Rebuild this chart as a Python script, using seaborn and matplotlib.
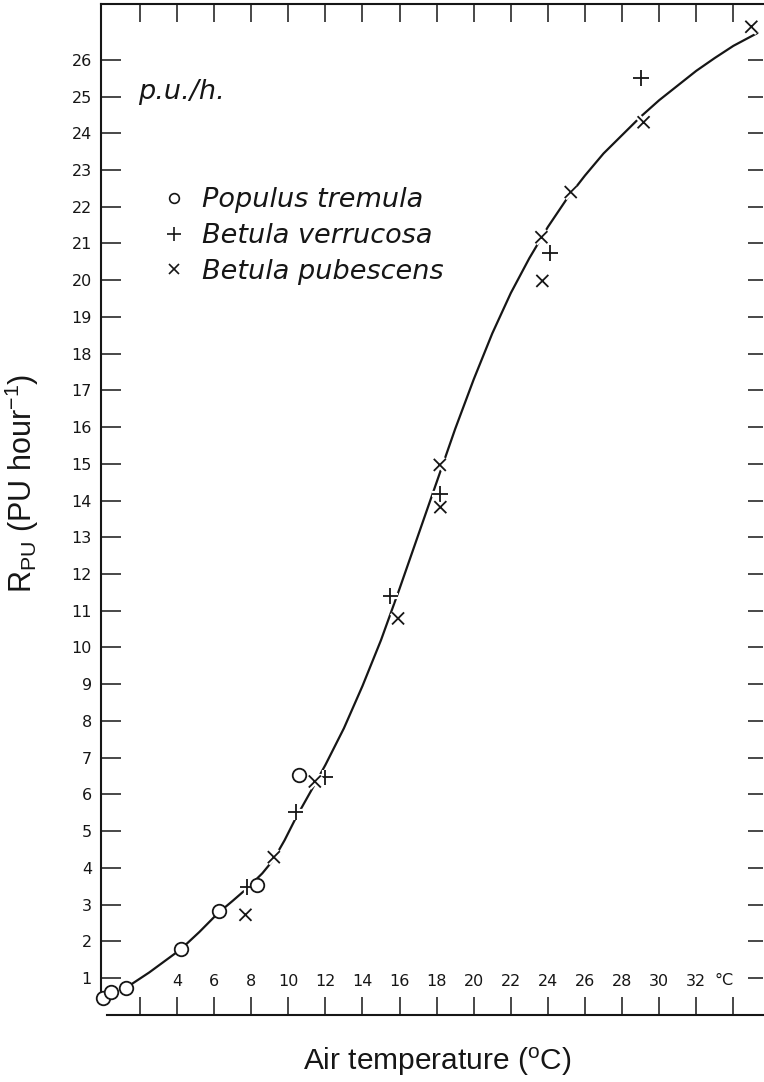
import numpy as np
import pandas as pd
import matplotlib
matplotlib.use("Agg")
import matplotlib.pyplot as plt
import matplotlib.patheffects as pe
from matplotlib.lines import Line2D
import seaborn as sns

# Fitted response curve (air temperature in degC, rate in PU per hour)
curve_temp = [1.3, 2.5, 4.2, 5.2, 6.2, 7.0, 7.8, 8.6, 9.2, 9.8, 10.4, 11.4, 12.0,
              13.0, 14.0, 15.0, 16.0, 17.0, 18.0, 19.0, 20.0, 21.0, 22.0, 23.0,
              24.0, 25.0, 26.0, 27.0, 28.0, 29.0, 30.0, 31.0, 32.0, 33.0, 34.0, 35.3]
curve_rate = [0.75, 1.15, 1.78, 2.25, 2.76, 3.1, 3.45, 3.85, 4.22, 4.75, 5.35, 6.25, 6.8,
              7.8, 8.95, 10.2, 11.6, 13.05, 14.5, 15.95, 17.3, 18.55, 19.65, 20.6,
              21.45, 22.2, 22.85, 23.45, 23.95, 24.45, 24.9, 25.3, 25.7, 26.05, 26.38, 26.73]

# Observations per species
populus_temp = [0.02, 0.43, 1.27, 4.24, 6.25, 8.29, 10.57]
populus_rate = [0.46, 0.62, 0.72, 1.78, 2.81, 3.53, 6.53]

verrucosa_temp = [7.80, 10.39, 11.97, 15.51, 18.20, 24.13, 29.04]
verrucosa_rate = [3.47, 5.53, 6.46, 11.40, 14.18, 20.75, 25.50]

pubescens_temp = [7.69, 9.22, 11.43, 15.92, 18.17, 18.20, 23.65, 23.70, 25.23, 29.16, 34.97]
pubescens_rate = [2.72, 4.29, 6.35, 10.79, 14.97, 13.82, 21.17, 19.98, 22.40, 24.30, 26.90]

species_names = ["Populus tremula", "Betula verrucosa", "Betula pubescens"]

x_ticks = list(range(2, 35, 2))
x_tick_labels = [""] + [str(v) for v in range(4, 33, 2)] + [""]
y_ticks = list(range(1, 27))

sns.set_theme(style="ticks")
plt.rcParams["font.family"] = ["DejaVu Sans"]
plt.rcParams["mathtext.fontset"] = "custom"
plt.rcParams["mathtext.rm"] = "Liberation Sans"
plt.rcParams["mathtext.it"] = "Liberation Sans:italic"

ink = "#161616"

fig = plt.figure(figsize=(7.64, 10.82), dpi=100)
ax = fig.add_axes([0.1322, 0.0622, 0.8665, 0.9341])

curve_df = pd.DataFrame({"temp": curve_temp, "rate": curve_rate})
sns.lineplot(data=curve_df, x="temp", y="rate", ax=ax, color=ink, lw=1.6,
             sort=False, estimator=None, zorder=2,
             solid_joinstyle="round", solid_capstyle="round")

halo = [pe.Stroke(linewidth=4.5, foreground="white"), pe.Normal()]

sns.scatterplot(x=populus_temp, y=populus_rate, ax=ax, marker="o", s=95,
                facecolor="white", edgecolor=ink, linewidth=1.3, zorder=4,
                clip_on=False)
sns.scatterplot(x=verrucosa_temp, y=verrucosa_rate, ax=ax, marker="+", s=130,
                color=ink, linewidth=1.3, zorder=3, path_effects=halo)
sns.scatterplot(x=pubescens_temp, y=pubescens_rate, ax=ax, marker="x", s=75,
                color=ink, linewidth=1.3, zorder=3, path_effects=halo,
                clip_on=False)

ax.set_xlim(-0.1, 35.6)
ax.set_ylim(0, 27.52)

ax.set_xticks(x_ticks)
ax.set_xticklabels(x_tick_labels)
ax.set_yticks(y_ticks)
ax.set_yticklabels([str(v) for v in y_ticks])

ax.tick_params(axis="x", which="major", direction="in", length=13, width=1.1,
               top=True, bottom=True, labeltop=False, labelbottom=True,
               pad=-29.5, labelsize=11.5, colors=ink)
ax.tick_params(axis="y", which="major", direction="in", length=14.5, width=1.1,
               left=True, right=True, labelleft=True, labelright=False,
               pad=6.5, labelsize=11.5, colors=ink)
for t in ax.yaxis.get_major_ticks():
    t.tick2line.set_markersize(11)

ax.text(33.0, 0.0343, "°C", transform=ax.get_xaxis_transform(), ha="left",
        va="center", fontsize=11.5, color=ink)

for side in ["left", "bottom", "top"]:
    ax.spines[side].set_linewidth(1.5)
    ax.spines[side].set_color(ink)
ax.spines["right"].set_visible(False)
ax.spines["left"].set_bounds(0.6, 27.52)
ax.spines["bottom"].set_bounds(0.25, 35.6)

ax.set_xlabel("Air temperature ($^{\\mathrm{o}}$C)", fontsize=21.5,
              fontfamily="Liberation Sans", color=ink)
ax.set_ylabel("R$_{\\mathrm{PU}}$ (PU hour$^{\\mathrm{-1}}$)", fontsize=22,
              fontfamily="Liberation Sans", color=ink)
ax.xaxis.set_label_coords(0.508, -0.031)
ax.yaxis.set_label_coords(-0.09, 0.526)

ax.text(0.0559, 0.906, "p.u./h.", transform=ax.transAxes, ha="left",
        va="baseline", fontsize=19.5, style="oblique", color=ink)

handles = [
    Line2D([], [], ls="none", marker="o", ms=7, mfc="white", mec=ink, mew=1.2),
    Line2D([], [], ls="none", marker="+", ms=10, color=ink, mew=1.2),
    Line2D([], [], ls="none", marker="x", ms=7, color=ink, mew=1.2),
]
ax.legend(handles, species_names, loc="upper left",
          bbox_to_anchor=(0.0899, 0.8185), frameon=False, borderpad=0,
          borderaxespad=0, handlelength=1.0, handletextpad=0.53,
          labelspacing=0.36, prop={"size": 19.5, "style": "oblique"},
          labelcolor=ink)

fig.savefig("out.png", dpi=100, facecolor="white")
